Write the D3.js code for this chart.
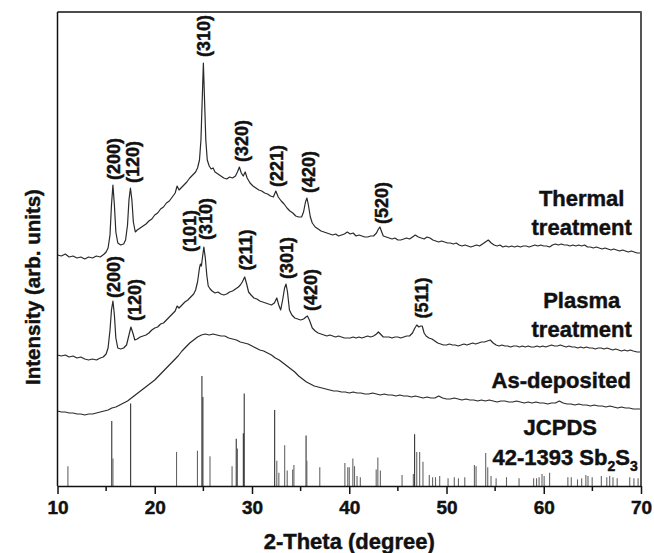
<!DOCTYPE html>
<html><head><meta charset="utf-8">
<script src="https://cdn.jsdelivr.net/npm/d3@7"></script>
<style>body{margin:0;background:#fff}svg{display:block}text{font-family:"Liberation Sans",Arial,sans-serif;font-weight:bold;fill:#111;stroke:#111;stroke-width:0.45px}</style>
</head><body>
<svg id="c" width="654" height="553"></svg>
<script>
// 2-Theta (deg), intensity (arb. units)
const thermal = [[10,245],[10.4,244],[10.8,246],[11.2,243],[11.6,244],[12,242],[12.4,243],[12.8,241],[13.2,243],[13.6,242],[14,244],[14.4,243],[14.8,246],[15,248],[15.2,252],[15.4,265],[15.55,295],[15.7,315],[15.85,295],[16,268],[16.2,257],[16.5,255],[16.8,256],[17,260],[17.2,275],[17.35,300],[17.5,312],[17.65,300],[17.8,278],[18,268],[18.2,270],[18.5,272],[18.8,274],[19.1,276],[19.4,279],[19.7,281],[20,285],[20.3,287],[20.6,291],[20.9,293],[21.2,297],[21.5,299],[21.8,303],[22.1,307],[22.3,314],[22.5,310],[22.7,312],[23,315],[23.3,318],[23.6,322],[23.9,325],[24.2,328],[24.4,332],[24.6,340],[24.75,360],[24.88,400],[25,437],[25.12,400],[25.25,360],[25.4,340],[25.6,334],[25.8,331],[26,332],[26.2,328],[26.5,326],[26.8,324],[27.1,322],[27.4,321],[27.7,323],[28,322],[28.3,324],[28.5,328],[28.7,333],[28.9,327],[29.1,324],[29.3,328],[29.5,322],[29.8,317],[30.1,314],[30.4,312],[30.7,310],[31,309],[31.3,307],[31.6,306],[31.9,304],[32.2,303],[32.45,309],[32.7,303],[33,299],[33.3,296],[33.6,292],[33.9,289],[34.2,287],[34.5,284],[34.8,283],[35.1,283],[35.3,288],[35.5,298],[35.65,302],[35.8,295],[36,283],[36.2,277],[36.5,273],[36.8,271],[37.1,269],[37.4,268],[37.7,267],[38,266],[38.3,265],[38.6,266],[38.9,264],[39.2,265],[39.5,266],[39.8,268],[40.1,266],[40.4,267],[40.7,264],[41,265],[41.3,264],[41.6,263],[41.9,263],[42.2,264],[42.5,264],[42.8,267],[43,271],[43.15,273],[43.3,269],[43.5,264],[43.8,263],[44.1,262],[44.4,261],[44.7,262],[45,260],[45.3,260],[45.6,261],[45.9,262],[46.2,261],[46.5,263],[46.8,265],[47.1,263],[47.4,262],[47.7,261],[48,263],[48.3,262],[48.6,260],[48.9,259],[49.2,258],[49.5,259],[49.8,258],[50.1,257],[50.4,257],[50.7,256],[51,257],[51.3,255],[51.6,254],[51.9,255],[52.2,254],[52.5,253],[52.8,254],[53.1,255],[53.4,254],[53.7,256],[54,258],[54.3,260],[54.6,257],[54.9,255],[55.2,254],[55.5,255],[55.8,253],[56.1,254],[56.4,253],[56.7,254],[57,253],[57.3,254],[57.6,253],[57.9,254],[58.2,254],[58.5,253],[58.8,254],[59.1,255],[59.4,254],[59.7,255],[60,254],[60.3,254],[60.6,253],[60.9,255],[61.2,256],[61.5,255],[61.8,256],[62.1,255],[62.4,255],[62.7,254],[63,255],[63.3,254],[63.6,255],[63.9,254],[64.2,255],[64.5,253],[64.8,253],[65.1,252],[65.4,253],[65.7,252],[66,251],[66.3,252],[66.6,251],[66.9,250],[67.2,251],[67.5,250],[67.8,249],[68.1,250],[68.4,249],[68.7,248],[69,249],[69.3,248],[69.6,247],[70,247]];

const plasma = [[10,145],[10.4,144],[10.8,145],[11.2,143],[11.6,144],[12,142],[12.4,143],[12.8,141],[13.2,140],[13.6,141],[14,140],[14.4,142],[14.7,143],[15,146],[15.2,152],[15.4,170],[15.55,190],[15.7,199],[15.85,185],[16,162],[16.2,152],[16.5,151],[16.8,152],[17.1,155],[17.35,165],[17.55,173],[17.75,167],[17.95,160],[18.2,161],[18.5,163],[18.8,164],[19.1,165],[19.4,167],[19.7,170],[20,172],[20.3,173],[20.6,176],[20.9,177],[21.2,180],[21.5,183],[21.8,186],[22.1,189],[22.3,194],[22.5,192],[22.8,195],[23.1,198],[23.4,200],[23.7,203],[24,206],[24.2,210],[24.4,218],[24.6,232],[24.7,236],[24.8,234],[24.9,242],[25.05,253],[25.2,242],[25.35,225],[25.5,214],[25.7,211],[25.9,209],[26.2,207],[26.5,208],[26.8,206],[27.1,205],[27.4,206],[27.7,208],[28,209],[28.3,211],[28.6,213],[28.8,215],[29,218],[29.25,223],[29.45,216],[29.65,208],[29.9,205],[30.2,202],[30.5,201],[30.8,199],[31.1,198],[31.4,197],[31.7,196],[32,195],[32.3,197],[32.55,202],[32.75,195],[32.95,190],[33.15,200],[33.35,212],[33.5,216],[33.65,208],[33.85,190],[34.1,185],[34.4,182],[34.7,181],[35,180],[35.3,181],[35.55,183],[35.7,184],[35.9,180],[36.2,172],[36.5,169],[36.8,167],[37.1,166],[37.4,165],[37.7,164],[38,165],[38.3,164],[38.6,163],[38.9,164],[39.2,163],[39.5,162],[39.8,162],[40.1,162],[40.4,163],[40.7,162],[41,163],[41.3,162],[41.6,163],[41.9,164],[42.2,163],[42.5,164],[42.8,166],[43,168],[43.2,166],[43.5,163],[43.8,163],[44.1,163],[44.4,162],[44.7,163],[45,163],[45.3,162],[45.6,163],[45.9,164],[46.2,164],[46.5,167],[46.75,172],[46.95,175],[47.15,173],[47.35,174],[47.5,174],[47.7,167],[47.9,164],[48.2,162],[48.5,161],[48.8,159],[49.1,157],[49.4,156],[49.7,155],[50,155],[50.3,156],[50.6,155],[50.9,155],[51.2,154],[51.5,155],[51.8,156],[52.1,155],[52.4,156],[52.7,157],[53,156],[53.3,157],[53.6,158],[53.9,158],[54.2,159],[54.5,160],[54.8,157],[55.1,155],[55.4,154],[55.7,155],[56,154],[56.3,154],[56.6,153],[56.9,154],[57.2,154],[57.5,153],[57.8,154],[58.1,153],[58.4,154],[58.7,153],[59,153],[59.3,154],[59.6,153],[59.9,154],[60.2,153],[60.5,154],[60.8,155],[61.1,154],[61.4,154],[61.7,155],[62,154],[62.3,153],[62.6,154],[62.9,153],[63.2,153],[63.5,152],[63.8,153],[64.1,152],[64.4,153],[64.7,152],[65,152],[65.3,151],[65.6,152],[65.9,152],[66.2,151],[66.5,152],[66.8,151],[67.1,150],[67.4,151],[67.7,150],[68,149],[68.3,150],[68.6,149],[68.9,150],[69.2,149],[69.6,148],[70,148]];

const asDeposited = [[10,89],[10.4,88],[10.8,88],[11.2,87],[11.6,87],[12,86],[12.4,86],[12.8,85],[13.2,86],[13.6,86],[14,87],[14.4,88],[14.8,89],[15.2,90],[15.6,92],[16,93],[16.4,95],[16.8,97],[17.2,99],[17.6,102],[18,105],[18.4,108],[18.8,111],[19.2,114],[19.6,117],[20,120],[20.4,124],[20.8,128],[21.2,132],[21.6,136],[22,140],[22.4,144],[22.8,149],[23.2,153],[23.6,157],[24,160],[24.4,163],[24.8,165],[25.2,166],[25.6,165],[26,166],[26.4,165],[26.8,164],[27.2,164],[27.6,162],[28,161],[28.4,160],[28.8,158],[29.2,157],[29.6,156],[30,154],[30.4,152],[30.8,150],[31.2,149],[31.6,147],[32,145],[32.4,142],[32.8,140],[33.2,137],[33.6,134],[34,131],[34.4,128],[34.8,124],[35.2,121],[35.6,118],[36,116],[36.4,114],[36.8,113],[37.2,112],[37.6,111],[38,110],[38.4,109],[38.8,109],[39.2,108],[39.6,108],[40,107],[40.4,108],[40.8,107],[41.2,107],[41.6,106],[42,106],[42.4,107],[42.8,106],[43.2,105],[43.6,106],[44,105],[44.4,105],[44.8,104],[45.2,105],[45.6,104],[46,104],[46.4,103],[46.8,104],[47.2,103],[47.6,102],[48,103],[48.4,102],[48.8,102],[49.2,104],[49.6,102],[50,101],[50.4,101],[50.8,102],[51.2,101],[51.6,100],[52,101],[52.4,100],[52.8,100],[53.2,99],[53.6,100],[54,99],[54.4,100],[54.8,99],[55.2,98],[55.6,99],[56,99],[56.4,98],[56.8,98],[57.2,99],[57.6,98],[58,97],[58.4,98],[58.8,97],[59.2,98],[59.6,97],[60,97],[60.4,96],[60.8,97],[61.2,97],[61.6,99],[62,97],[62.4,96],[62.8,96],[63.2,95],[63.6,96],[64,95],[64.4,95],[64.8,94],[65.2,95],[65.6,94],[66,94],[66.4,93],[66.8,94],[67.2,93],[67.6,92],[68,93],[68.4,92],[68.8,92],[69.2,91],[69.6,91],[70,91]];

// JCPDS 42-1393 reference lines: 2-theta and relative intensity
const refTheta = [11.07,15.58,15.7,17.52,22.24,24.39,24.85,24.95,25.68,27.95,28.38,28.5,29.11,29.2,32.33,32.55,32.76,33.36,33.62,34.18,34.31,35.56,35.64,36.97,39.55,39.85,40.0,40.37,40.54,40.8,41.14,42.77,42.94,43.2,45.43,46.59,46.72,46.94,47.24,47.58,48.23,48.57,48.87,49.3,50.16,50.8,51.23,51.88,52.87,53.04,54.03,54.24,54.58,55.1,56.17,57.46,58.96,59.26,59.52,59.82,60.04,60.6,62.48,62.83,63.47,63.9,64.33,64.55,64.98,65.92,66.48,66.78,67.12,67.55,68.84,69.27,69.7];
const refInt = [18,59,25,75,31,32,100,81,27,18,43,34,48,84,69,23,12,37,14,15,19,46,23,17,21,17,17,25,18,9,8,15,26,14,10,11,47,31,31,22,10,8,8,9,7,8,7,8,19,18,30,17,9,7,8,7,7,7,8,11,9,12,8,8,6,7,10,9,8,9,8,9,8,7,8,7,7];

const xTicks = [10,20,30,40,50,60,70];
const xMinorTicks = [15,25,35,45,55,65];

// peak labels: text, 2-theta, intensity level
const thermalPeaks = [["(200)",15.74,341],["(120)",17.73,338],["(310)",25.06,464],["(320)",28.94,359],["(221)",32.57,334],["(420)",35.76,328],["(520)",43.27,297]];
const plasmaPeaks = [["(200)",15.74,223],["(120)",17.97,200],["(101)",23.62,269],["(310)",25.24,281],["(211)",29.38,250],["(301)",33.6,242],["(420)",35.97,210],["(511)",47.45,202]];
const seriesLabels = [["Thermal",63.9,302],["treatment",63.9,273],["Plasma",63.9,200],["treatment",63.9,171],["As-deposited",61.8,120],["JCPDS",61.7,73]];

const svg = d3.select("#c");
const L = 57.5, R = 641, T = 12, B = 486;
const x = d3.scaleLinear().domain([10,70]).range([L,R]);
const y = d3.scaleLinear().domain([14,488]).range([B,T]);
const yRef = d3.scaleLinear().domain([0,100]).range([B,B-110]);

// reference sticks
svg.append("g").selectAll("line").data(refTheta).join("line")
  .attr("x1",d=>x(d)).attr("x2",d=>x(d))
  .attr("y1",B).attr("y2",(d,i)=>yRef(refInt[i]))
  .attr("stroke",(d,i)=>refInt[i]>40?"#333":"#666").attr("stroke-width",1.1);

const line = d3.line().x(d=>x(d[0])).y(d=>y(d[1]));
[thermal,plasma,asDeposited].forEach(s=>{
  svg.append("path").datum(s).attr("d",line).attr("fill","none")
    .attr("stroke","#2a2a2a").attr("stroke-width",1.2).attr("stroke-linejoin","round");
});

// frame
svg.append("line").attr("x1",L).attr("x2",R).attr("y1",T).attr("y2",T).attr("stroke","#111").attr("stroke-width",1.4);
svg.append("line").attr("x1",L).attr("x2",L).attr("y1",T).attr("y2",B).attr("stroke","#111").attr("stroke-width",1.5);
svg.append("line").attr("x1",R).attr("x2",R).attr("y1",T-0.7).attr("y2",B).attr("stroke","#555").attr("stroke-width",2);

// x axis
const ax = svg.append("g").attr("transform",`translate(0,${B})`)
  .call(d3.axisBottom(x).tickValues(xTicks).tickSize(8).tickPadding(7).tickSizeOuter(0).tickFormat(d3.format("d")));
ax.select(".domain").attr("stroke","#111").attr("stroke-width",1.5);
ax.selectAll(".tick line").attr("stroke","#111").attr("stroke-width",1.5);
ax.selectAll(".tick text").style("font-size","19px").style("font-weight","bold").attr("fill","#111");
svg.append("g").selectAll("line").data(xMinorTicks).join("line")
  .attr("x1",d=>x(d)).attr("x2",d=>x(d)).attr("y1",B).attr("y2",B+5)
  .attr("stroke","#111").attr("stroke-width",1.5);

// axis titles
svg.append("text").attr("x",(L+R)/2).attr("y",549).attr("text-anchor","middle").style("font-size","22px").text("2-Theta (degree)");
svg.append("text").attr("transform","translate(40,287) rotate(-90)").attr("text-anchor","middle").style("font-size","20.5px").text("Intensity (arb. units)");

// peak labels
[...thermalPeaks,...plasmaPeaks].forEach(p=>{
  svg.append("text").attr("transform",`translate(${x(p[1])},${y(p[2])}) rotate(-90)`)
    .attr("text-anchor","middle").attr("dy","0.36em").style("font-size","18px").text(p[0]);
});

// series labels
seriesLabels.forEach(s=>{
  svg.append("text").attr("x",x(s[1])).attr("y",y(s[2])).attr("dy","0.36em")
    .attr("text-anchor","middle").style("font-size","22px").text(s[0]);
});
const jc = svg.append("text").attr("x",x(62.2)).attr("y",y(43)).attr("dy","0.36em")
  .attr("text-anchor","middle").style("font-size","22px");
jc.append("tspan").text("42-1393 Sb");
jc.append("tspan").attr("dy","6").style("font-size","14px").text("2");
jc.append("tspan").attr("dy","-6").text("S");
jc.append("tspan").attr("dy","6").style("font-size","14px").text("3");
</script>
</body></html>
